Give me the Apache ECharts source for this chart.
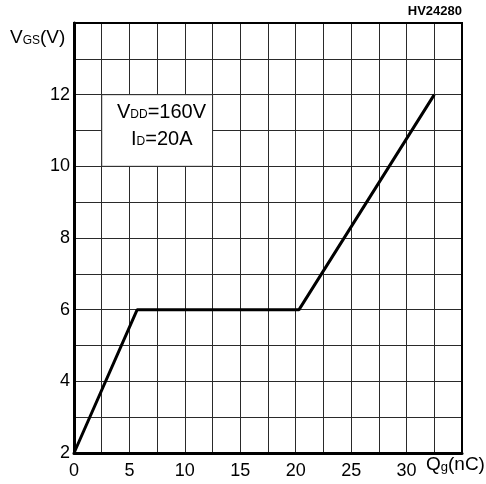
<!DOCTYPE html>
<html>
<head>
<meta charset="utf-8">
<script src="https://cdn.jsdelivr.net/npm/echarts@6/dist/echarts.min.js"></script>
<style>
  html, body { margin: 0; padding: 0; background: #fff; }
  #chart { width: 486px; height: 484px; }
</style>
</head>
<body>
<div id="chart"></div>
<script>
// Gate charge curve: VGS versus Qg
const qg = [0, 5.7, 20.3, 32.5];        // nC
const vgs = [2, 6, 6, 12];              // V
const xTickLabels = [0, 5, 10, 15, 20, 25, 30];
const yTickLabels = [2, 4, 6, 8, 10, 12];

const FONT = '"Liberation Sans", Arial, sans-serif';
const GRID_COLOR = '#2a2a2a';

const chart = echarts.init(document.getElementById('chart'), null, { renderer: 'canvas' });

const option = {
  animation: false,
  backgroundColor: '#fff',
  grid: {
    left: 74, right: 24, top: 23, bottom: 31,
    show: true, borderColor: '#000', borderWidth: 2, z: 5
  },
  xAxis: {
    type: 'value', min: 0, max: 35, interval: 2.5,
    axisLine: { show: true, onZero: false, lineStyle: { color: '#000', width: 3 } },
    axisTick: { show: false },
    splitLine: { show: true, lineStyle: { color: GRID_COLOR, width: 1 } },
    axisLabel: {
      margin: 9, color: '#000', fontFamily: FONT, fontSize: 18,
      formatter: v => (xTickLabels.includes(v) ? String(v) : '')
    }
  },
  yAxis: {
    type: 'value', min: 2, max: 14, interval: 1,
    axisLine: { show: true, onZero: false, lineStyle: { color: '#000', width: 3 } },
    axisTick: { show: false },
    splitLine: { show: true, lineStyle: { color: GRID_COLOR, width: 1 } },
    axisLabel: {
      margin: 4, color: '#000', fontFamily: FONT, fontSize: 18,
      formatter: v => (yTickLabels.includes(v) ? String(v) : '')
    }
  },
  series: [
    {
      // white panel behind the test-condition note
      type: 'line', data: [], silent: true,
      markArea: {
        silent: true,
        itemStyle: { color: '#fff', borderColor: GRID_COLOR, borderWidth: 1 },
        data: [[{ coord: [2.5, 12] }, { coord: [12.5, 10] }]]
      },
      z: 2
    },
    {
      type: 'line',
      data: qg.map((x, i) => [x, vgs[i]]),
      symbol: 'none',
      lineStyle: { color: '#000', width: 3 },
      z: 10
    }
  ],
  graphic: [
    {
      type: 'text', left: 10, top: 28,
      style: {
        text: '{b|V}{s|GS}{b|(V)}',
        rich: {
          b: { fontFamily: FONT, fontSize: 19, fill: '#000' },
          s: { fontFamily: FONT, fontSize: 12, fill: '#000', padding: [6, 0, 0, 0] }
        }
      }
    },
    {
      type: 'text', left: 426, top: 455,
      style: {
        text: '{b|Q}{s|g}{b|(nC)}',
        rich: {
          b: { fontFamily: FONT, fontSize: 19, fill: '#000' },
          s: { fontFamily: FONT, fontSize: 13, fill: '#000', padding: [6, 0, 0, 0] }
        }
      }
    },
    {
      type: 'text', right: 24, top: 5,
      style: { text: 'HV24280', fontFamily: FONT, fontSize: 13, fontWeight: 'bold', fill: '#000' }
    },
    {
      type: 'text', left: 117, top: 102, z: 20,
      style: {
        text: '{b|V}{s|DD}{b|=160V}',
        rich: {
          b: { fontFamily: FONT, fontSize: 20, fill: '#000' },
          s: { fontFamily: FONT, fontSize: 12, fill: '#000', padding: [6, 0, 0, 0] }
        }
      }
    },
    {
      type: 'text', left: 131, top: 129, z: 20,
      style: {
        text: '{b|I}{s|D}{b|=20A}',
        rich: {
          b: { fontFamily: FONT, fontSize: 20, fill: '#000' },
          s: { fontFamily: FONT, fontSize: 12, fill: '#000', padding: [6, 0, 0, 0] }
        }
      }
    }
  ]
};

chart.setOption(option);
</script>
</body>
</html>
